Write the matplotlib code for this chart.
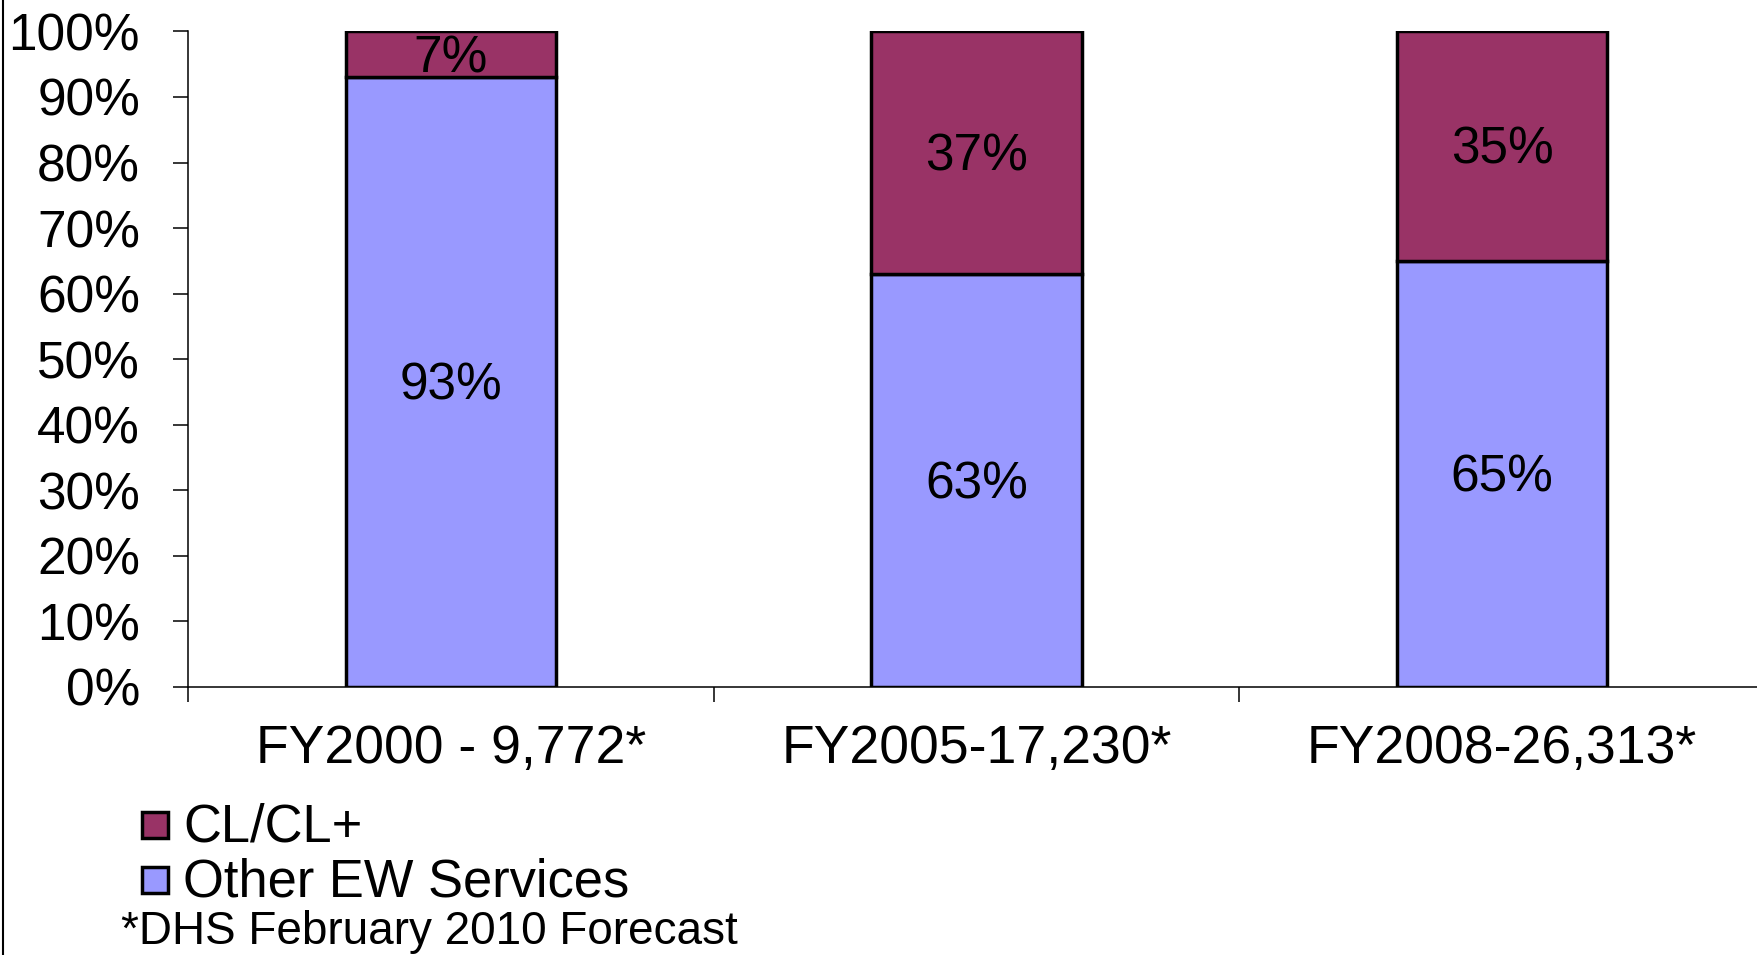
import matplotlib
matplotlib.use("Agg")
import matplotlib.pyplot as plt
from matplotlib.patches import Rectangle
from matplotlib.lines import Line2D
import numpy as np

categories = ["FY2000 - 9,772*", "FY2005-17,230*", "FY2008-26,313*"]
other_ew = [93, 63, 65]
cl_clplus = [7, 37, 35]
series_names = ["CL/CL+", "Other EW Services"]
colors = {"CL/CL+": "#993366", "Other EW Services": "#9999FF"}
yticks = [0, 10, 20, 30, 40, 50, 60, 70, 80, 90, 100]
footnote = "*DHS February 2010 Forecast"

plt.rcParams['font.family'] = ['Liberation Sans', 'DejaVu Sans']

fig = plt.figure(figsize=(17.57, 9.55), dpi=100)
ax = fig.add_axes([188 / 1757, 1 - 687 / 955, (1765 - 188) / 1757, (687 - 31.4) / 955])

x = np.arange(len(categories))
w = 0.40
b1 = ax.bar(x, other_ew, width=w, color=colors["Other EW Services"], edgecolor="black", linewidth=2.5, zorder=3)
b2 = ax.bar(x, cl_clplus, width=w, bottom=other_ew, color=colors["CL/CL+"], edgecolor="black", linewidth=2.5, zorder=3)

fs = 37
fs2 = 38.5
for i in range(len(categories)):
    ax.annotate(f"{other_ew[i]}%", (x[i], other_ew[i] / 2), xytext=(0, -3), textcoords="offset points",
                ha="center", va="center", fontsize=fs, zorder=4)
    ax.annotate(f"{cl_clplus[i]}%", (x[i], other_ew[i] + cl_clplus[i] / 2), xytext=(0, -3), textcoords="offset points",
                ha="center", va="center", fontsize=fs, zorder=4)

ax.set_xlim(-0.5, len(categories) - 0.5)
ax.set_ylim(0, 100)
ax.set_yticks(yticks)
ax.set_yticklabels([f"{v}%" for v in yticks], fontsize=fs)
ax.set_xticks(np.arange(len(categories) + 1) - 0.5)
ax.set_xticklabels([])
ax.set_xticks(x, minor=True)
ax.set_xticklabels(categories, minor=True, fontsize=fs2)
ax.tick_params(axis="x", which="minor", length=0, pad=27)
ax.tick_params(axis="x", which="major", length=10.5, width=1.1, direction="out")
ax.tick_params(axis="y", length=10.5, width=1.1, direction="out", pad=24)
for s in ["top", "right"]:
    ax.spines[s].set_visible(False)
for s in ["left", "bottom"]:
    ax.spines[s].set_linewidth(1.1)

# legend (manual)
leg_y = [825, 880]
for name, yc in zip(series_names, leg_y):
    fig.patches.append(Rectangle((142 / 1757, 1 - (yc + 13) / 955), 26 / 1757, 26 / 955,
                                 transform=fig.transFigure, facecolor=colors[name],
                                 edgecolor="black", linewidth=2.5))
    fig.text(183 / 1757, 1 - (yc + 2) / 955, name, ha="left", va="center", fontsize=37.8)

fig.text(121 / 1757, 1 - 932 / 955, footnote, ha="left", va="center", fontsize=33)

fig.lines.append(Line2D([0.0015, 0.0015], [0, 1], transform=fig.transFigure, color="black", linewidth=1.5))

fig.savefig("out.png", dpi=100)
